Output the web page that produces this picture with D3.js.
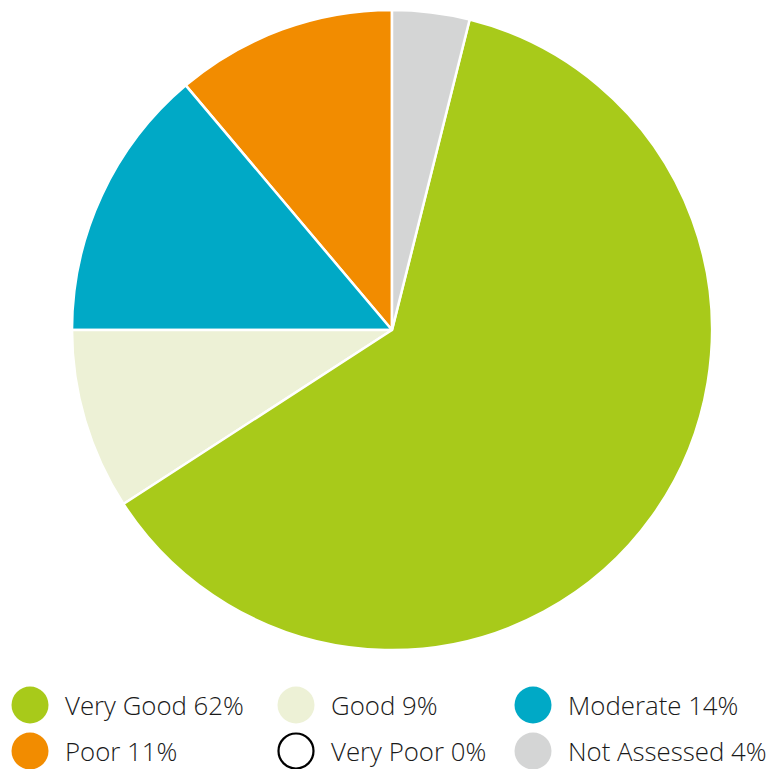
<!DOCTYPE html>
<html><head><meta charset="utf-8">
<script src="https://cdn.jsdelivr.net/npm/d3@7"></script>
<style>html,body{margin:0;padding:0;background:#fff;}</style>
</head><body>
<svg id="chart" width="772" height="769"></svg>
<script>
const categories = ["Very Good", "Good", "Moderate", "Poor", "Very Poor", "Not Assessed"];
const values = [61.95, 9.15, 13.85, 11.15, 0, 3.9];
const legendLabels = ["Very Good 62%", "Good 9%", "Moderate 14%", "Poor 11%", "Very Poor 0%", "Not Assessed 4%"];
const colors = ["#A8CA1A", "#EDF1D6", "#00A9C6", "#F28C00", "#FFFFFF", "#D4D5D5"];

const svg = d3.select("#chart");
const cx = 392, cy = 330, r = 320;

const data = categories.map((c, i) => ({cat: c, value: values[i], color: colors[i]}));
const arc = d3.arc().innerRadius(0).outerRadius(r);

// Order going counterclockwise from 12 o'clock: Poor, Moderate, Good, Very Good, Not Assessed
const order = [3, 2, 1, 0, 5, 4];
const pieData = order.map(i => data[i]);
const arcs = d3.pie().value(d => d.value).sort(null)
  .startAngle(0).endAngle(-2 * Math.PI)(pieData);

svg.append("g").attr("transform", `translate(${cx},${cy})`)
  .selectAll("path").data(arcs.filter(a => a.data.value > 0)).join("path")
  .attr("d", arc)
  .attr("fill", d => d.data.color)
  .attr("stroke", "#fff").attr("stroke-width", 2.5).attr("stroke-linejoin", "round");

const colX = [30, 296, 533];
const rowY = [705, 751];
const lg = svg.append("g");
categories.forEach((c, i) => {
  const x = colX[i % 3], y = rowY[Math.floor(i / 3)];
  const isEmpty = values[i] === 0;
  lg.append("circle").attr("cx", x).attr("cy", y)
    .attr("r", isEmpty ? 17.5 : 18.5)
    .attr("fill", isEmpty ? "#fff" : colors[i])
    .attr("stroke", isEmpty ? "#000" : "none")
    .attr("stroke-width", isEmpty ? 2.2 : 0);
  lg.append("text").attr("x", x + 35).attr("y", y + 10)
    .attr("font-family", "'Open Sans', sans-serif")
    .attr("font-size", 25.8).attr("font-weight", 300)
    .attr("fill", "#1a1a1a")
    .text(legendLabels[i]);
});
</script>
</body></html>
